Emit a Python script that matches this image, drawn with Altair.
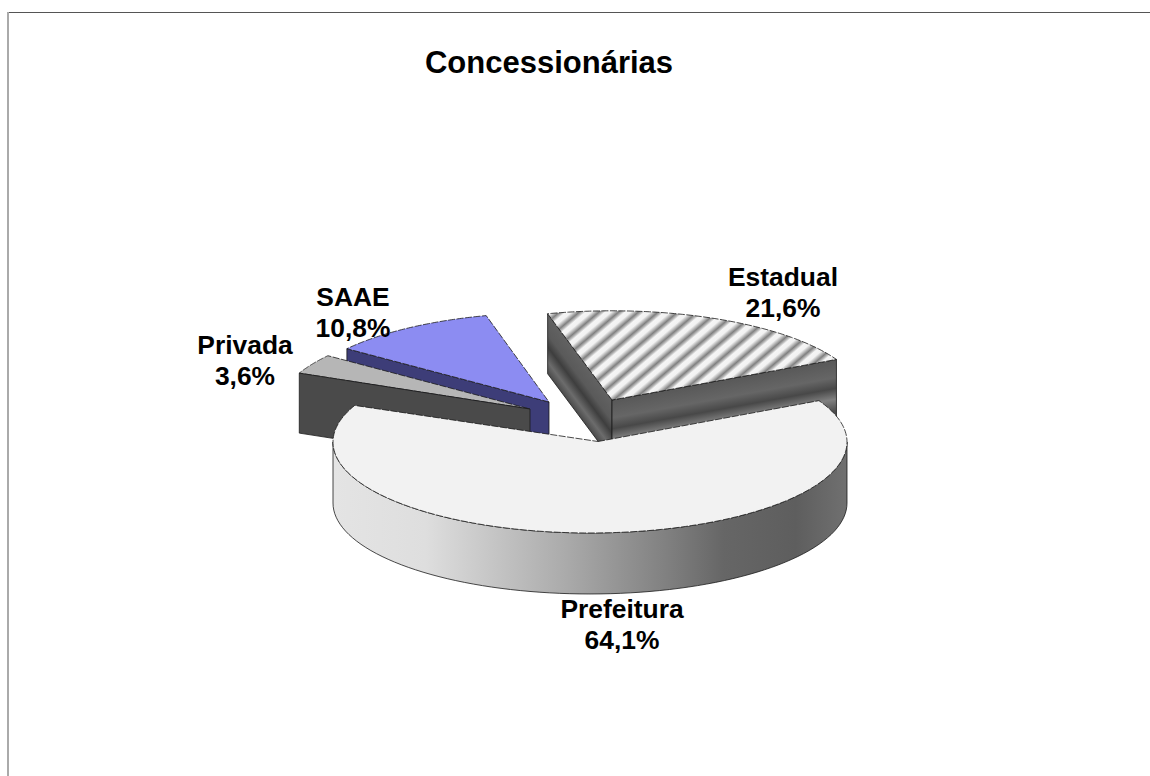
import math
import altair as alt

# Share of municipalities per concessionaire type (percent)
categories = ["Estadual", "Prefeitura", "Privada", "SAAE"]
shares = [21.6, 64.1, 3.6, 10.8]
chart_title = "Concessionárias"

# Drawing geometry of the tilted pie
START_ANGLE = -14.8
TILT = 0.354
DEPTH = 60
CENTER = (590, 442)
LAYOUT = {
    "Estadual": dict(apex=(612, 400), r=252, label=(783, 286)),
    "Prefeitura": dict(apex=(598, 441.5), r=257, label=(622, 618)),
    "Privada": dict(apex=(530, 409), r=252, label=(245, 354)),
    "SAAE": dict(apex=(549, 402), r=252, label=(353, 306)),
}

# Light and dark bands on the hatched slice's side walls, top edge to bottom edge
FRONT_BANDS = [(0, "#585858"), (0.3, "#666666"), (0.48, "#484848"),
               (0.66, "#808080"), (0.85, "#505050"), (1, "#404040")]
LEFT_BANDS = [(0, "#626262"), (0.35, "#5a5a5a"), (0.55, "#3e3e3e"),
              (0.8, "#6c6c6c"), (1, "#4a4a4a")]


def rim(origin, r, a0, a1, steps=80):
    pts = []
    for i in range(steps + 1):
        a = math.radians(a0 + (a1 - a0) * i / steps)
        pts.append([origin[0] + r * math.sin(a), origin[1] - TILT * r * math.cos(a)])
    return pts


def polygon(pts):
    ring = [list(p) for p in pts] + [list(pts[0])]
    return {"type": "Feature", "properties": {},
            "geometry": {"type": "Polygon", "coordinates": [ring]}}


def drop(pts, d):
    return [[x, y + d] for x, y in pts]


def layer(pts, fill, dash=None, stroke="#1a1a1a", sw=0.8):
    opts = dict(fill=fill, stroke=stroke, strokeWidth=sw)
    if dash:
        opts["strokeDash"] = dash
    return (
        alt.Chart(alt.Data(values=[polygon(pts)]))
        .mark_geoshape(**opts)
        .project(type="identity", scale=1, translate=[0, 0])
    )


def stops(pairs):
    return [alt.GradientStop(offset=o, color=c) for o, c in pairs]


def linear(x1, y1, x2, y2, pairs):
    return alt.LinearGradient(gradient="linear", x1=x1, y1=y1, x2=x2, y2=y2, stops=stops(pairs))


def bbox(pts):
    xs = [p[0] for p in pts]
    ys = [p[1] for p in pts]
    return min(xs), min(ys), max(xs) - min(xs), max(ys) - min(ys)


def wall_gradient(p0, p1, pts, depth, pairs):
    # Bands parallel to the wall's top edge; gradient units are relative to the bounding box
    x0, y0, w, h = bbox(pts)
    ex, ey = (p1[0] - p0[0]) / w, (p1[1] - p0[1]) / h
    norm = math.hypot(ex, ey)
    nx, ny = -ey / norm, ex / norm
    if ny < 0:
        nx, ny = -nx, -ny
    sx = ((p0[0] + p1[0]) / 2 - x0) / w
    sy = ((p0[1] + p1[1]) / 2 - y0) / h
    length = depth / h * ny
    return linear(sx, sy, sx + nx * length, sy + ny * length, pairs)


def stripes(pts, pitch, slope):
    # Diagonal hatch running up and to the right, built as a repeating gradient.
    # pitch is the horizontal spacing and slope the rise per pixel of run.
    _, _, w, h = bbox(pts)
    q = h / (w * slope)
    span = w + h / slope
    dx = span / (w * (1 + q * q))
    n = int(span / pitch)
    pairs = []
    for i in range(n):
        for frac, col in ((0.0, "#f5f5f5"), (0.3, "#f2f2f2"), (0.5, "#b8b8b8"),
                          (0.68, "#808080"), (0.86, "#bcbcbc")):
            pairs.append(((i + frac) / n, col))
    pairs.append((1, "#f5f5f5"))
    return alt.LinearGradient(gradient="linear", x1=0, y1=0, x2=dx, y2=dx * q, stops=stops(pairs))


# Slice angles, clockwise from north
angles = {}
a = START_ANGLE
for name, share in zip(categories, shares):
    angles[name] = (a, a + share * 3.6)
    a += share * 3.6

layers = []
TOP_DASH = [7, 1.5]

# Estadual: two visible side walls and the hatched top
g = LAYOUT["Estadual"]
top = rim(g["apex"], g["r"], *angles["Estadual"])
apex = list(g["apex"])
left_face = [top[0], apex, [apex[0], apex[1] + DEPTH], [top[0][0], top[0][1] + DEPTH]]
front_face = [apex, top[-1], [top[-1][0], top[-1][1] + DEPTH - 2], [apex[0], apex[1] + DEPTH]]
layers.append(layer(left_face, wall_gradient(top[0], apex, left_face, DEPTH, LEFT_BANDS)))
layers.append(layer(front_face, wall_gradient(apex, top[-1], front_face, DEPTH, FRONT_BANDS)))
layers.append(layer([apex] + top, stripes([apex] + top, 19, 0.85), TOP_DASH))

# SAAE: front wall and top
g = LAYOUT["SAAE"]
top = rim(g["apex"], g["r"], *angles["SAAE"])
apex = list(g["apex"])
layers.append(layer([top[0], apex, [apex[0], apex[1] + DEPTH], [top[0][0], top[0][1] + DEPTH]], "#3d3d78"))
layers.append(layer([apex] + top, "#8c8cf2", TOP_DASH))

# Privada: front wall and top
g = LAYOUT["Privada"]
top = rim(g["apex"], g["r"], *angles["Privada"])
apex = list(g["apex"])
layers.append(layer([apex] + top, "#b6b6b6", TOP_DASH))
layers.append(layer([top[0], apex, [apex[0], apex[1] + DEPTH], [top[0][0], top[0][1] + DEPTH]], "#4a4a4a"))

# Prefeitura: curved wall along the front half, then the top
g = LAYOUT["Prefeitura"]
a0, a1 = angles["Prefeitura"]
wall_rim = rim(CENTER, g["r"], 90, 270)
layers.append(layer(wall_rim + drop(wall_rim, DEPTH + 1)[::-1],
                    linear(1, 0, 0, 0,
                           [(0, "#707070"), (0.1, "#5e5e5e"), (0.24, "#666666"), (0.35, "#808080"),
                            (0.55, "#ababab"), (0.82, "#dedede"), (1, "#e4e4e4")])))
layers.append(layer([list(g["apex"])] + rim(CENTER, g["r"], a0, a1, 160), "#f2f2f2", TOP_DASH))

# Frame lines along the top and left of the page
row = alt.Data(values=[{"edge": "frame"}])
layers.append(alt.Chart(row).mark_rule(color="#555555", strokeWidth=1).encode(
    x=alt.value(7), x2=alt.value(1150), y=alt.value(12.5)))
layers.append(alt.Chart(row).mark_rule(color="#aaaaaa", strokeWidth=2).encode(
    x=alt.value(8), y=alt.value(12), y2=alt.value(776)))

# Slice labels: name above percentage
for name, share in zip(categories, shares):
    text = f"{name}\n{share:.1f}%".replace(".", ",")
    lx, ly = LAYOUT[name]["label"]
    layers.append(
        alt.Chart(alt.Data(values=[{"category": name, "share": share}]))
        .mark_text(font="Liberation Sans", fontWeight="bold", fontSize=26.4, lineHeight=31,
                   lineBreak="\n", align="center", baseline="alphabetic", color="#000000")
        .encode(x=alt.value(lx), y=alt.value(ly), text=alt.value(text))
    )

chart = (
    alt.layer(*layers)
    .properties(
        width=1150, height=776, padding=0, autosize=alt.AutoSizeParams(type="none"),
        title=alt.TitleParams(chart_title, font="Liberation Sans", fontSize=31, fontWeight="bold",
                              color="#000000", anchor="middle", dx=-26, dy=104, offset=0, baseline="alphabetic"),
        background="white",
    )
    .configure_view(stroke=None)
)
chart.save("out.html", embed_options={"renderer": "svg", "actions": False})
